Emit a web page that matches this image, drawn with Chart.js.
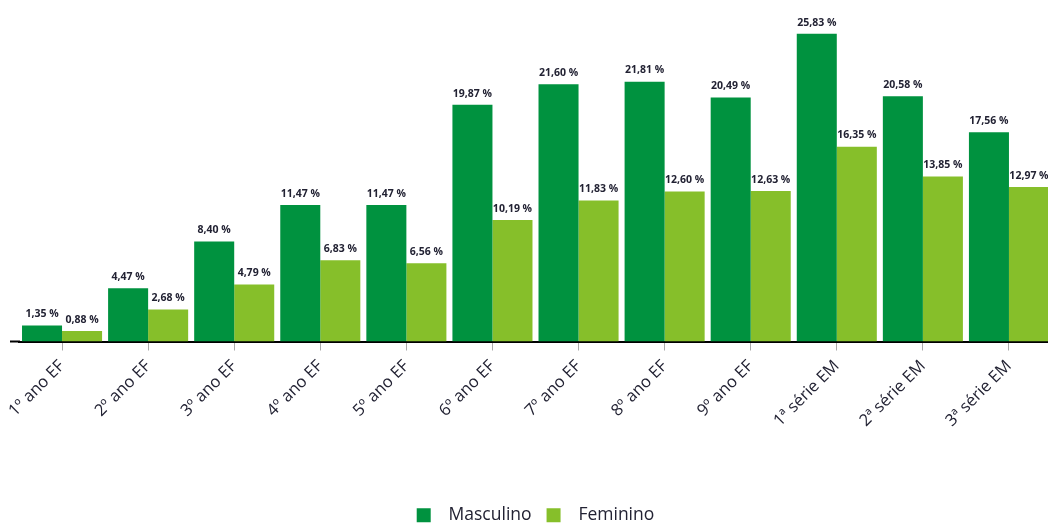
<!DOCTYPE html>
<html>
<head>
<meta charset="utf-8">
<script src="https://cdn.jsdelivr.net/npm/chart.js@4"></script>
<style>
  html, body { margin: 0; padding: 0; background: #fff; overflow: hidden; }
  #wrap { position: absolute; left: 0; top: 0; width: 1048px; height: 523px; overflow: hidden; }
</style>
</head>
<body>
<div id="wrap"><canvas id="grafico" width="1060" height="534"></canvas></div>
<script>
  // Categorias (anos escolares)
  const anos = ['1º ano EF', '2º ano EF', '3º ano EF', '4º ano EF', '5º ano EF', '6º ano EF',
    '7º ano EF', '8º ano EF', '9º ano EF', '1ª série EM', '2ª série EM', '3ª série EM'];

  // Percentuais por sexo
  const masculino = [1.35, 4.47, 8.40, 11.47, 11.47, 19.87, 21.60, 21.81, 20.49, 25.83, 20.58, 17.56];
  const feminino = [0.88, 2.68, 4.79, 6.83, 6.56, 10.19, 11.83, 12.60, 12.63, 16.35, 13.85, 12.97];

  const fmt = v => v.toFixed(2).replace('.', ',') + ' %';

  // rótulos em cima das barras + começo da linha do eixo
  const rotulos = {
    id: 'rotulos',
    afterDatasetsDraw(chart) {
      const ctx = chart.ctx;
      const area = chart.chartArea;
      ctx.save();
      ctx.strokeStyle = '#000';
      ctx.lineWidth = 2;
      ctx.beginPath();
      ctx.moveTo(10, area.bottom);
      ctx.lineTo(area.left + 1, area.bottom);
      ctx.stroke();

      ctx.font = 'bold 10.5px "Open Sans"';
      ctx.fillStyle = '#222233';
      ctx.textAlign = 'center';
      ctx.textBaseline = 'bottom';
      chart.data.datasets.forEach((ds, i) => {
        chart.getDatasetMeta(i).data.forEach((bar, j) => {
          ctx.fillText(fmt(ds.data[j]), bar.x, bar.y - 6);
        });
      });
      ctx.restore();
    }
  };

  const ctx = document.getElementById('grafico').getContext('2d');
  new Chart(ctx, {
    type: 'bar',
    data: {
      labels: anos,
      datasets: [
        { label: 'Masculino', data: masculino, backgroundColor: '#00923F' },
        { label: 'Feminino', data: feminino, backgroundColor: '#86BF2A' }
      ]
    },
    options: {
      responsive: false,
      animation: false,
      categoryPercentage: 0.93,
      barPercentage: 1,
      layout: { padding: { left: 19, right: 8, top: 0, bottom: 0 } },
      plugins: {
        legend: {
          position: 'bottom',
          labels: {
            boxWidth: 14,
            boxHeight: 14,
            padding: 15,
            color: '#222233',
            font: { family: 'Open Sans', size: 17.5 },
            generateLabels(chart) {
              // espaço extra entre o quadrado e o texto
              return Chart.defaults.plugins.legend.labels.generateLabels(chart)
                .map(l => ({ ...l, text: '  ' + l.text }));
            }
          }
        },
        tooltip: { enabled: false }
      },
      scales: {
        x: {
          grid: { drawOnChartArea: false, offset: false, tickLength: 9, color: '#aaa' },
          border: { color: '#000', width: 2 },
          ticks: {
            minRotation: 45,
            maxRotation: 45,
            padding: 6,
            color: '#222233',
            font: { family: 'Open Sans', size: 16.5 }
          },
          afterFit(scale) {
            scale.height = 150;
            scale.paddingLeft = 0;
            scale.paddingRight = 0;
          }
        },
        y: {
          display: false,
          min: 0,
          max: 28.67
        }
      }
    },
    plugins: [rotulos]
  });
</script>
</body>
</html>
